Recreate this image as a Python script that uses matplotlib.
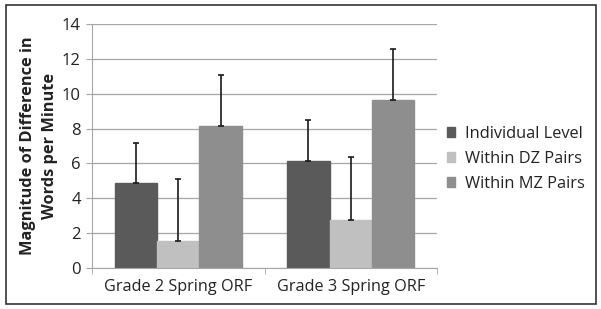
import numpy as np
import matplotlib.pyplot as plt
from matplotlib.patches import Rectangle

categories = ['Grade 2 Spring ORF', 'Grade 3 Spring ORF']
series = ['Individual Level', 'Within DZ Pairs', 'Within MZ Pairs']
values = {
    'Individual Level': [4.85, 6.15],
    'Within DZ Pairs': [1.55, 2.75],
    'Within MZ Pairs': [8.15, 9.65],
}
errors = {
    'Individual Level': [2.3, 2.35],
    'Within DZ Pairs': [3.55, 3.6],
    'Within MZ Pairs': [2.9, 2.9],
}
colors = ['#5a5a5a', '#c0c0c0', '#8e8e8e']

plt.rcParams['font.family'] = ['Open Sans', 'DejaVu Sans']
fig = plt.figure(figsize=(6.01, 3.09), dpi=100)
ax = fig.add_axes([92 / 601, 1 - 268 / 309, (437 - 92) / 601, 244 / 309])

x = np.arange(len(categories))
w = 0.246
for i, s in enumerate(series):
    pos = x + (i - 1) * w
    ax.bar(pos, values[s], w, color=colors[i], edgecolor=colors[i], label=s, zorder=2)
    ax.errorbar(pos, values[s], yerr=[np.zeros(len(categories)), errors[s]],
                fmt='none', ecolor='#1a1a1a', elinewidth=1.2, capsize=2.5, capthick=1.2, zorder=3)

ax.set_xlim(-0.5, 1.5)
ax.set_ylim(0, 14)
ax.set_yticks(range(0, 15, 2))
ax.yaxis.grid(True, color='#a6a6a6', linewidth=0.9, zorder=0)
ax.set_axisbelow(True)
ax.set_xticks(x)
ax.set_xticklabels(categories, fontsize=11.7, color='#222222')
ax.set_xticks([-0.5, 0.5, 1.5], minor=True)
ax.tick_params(axis='x', which='major', length=0, pad=8)
ax.tick_params(axis='x', which='minor', length=4, color='#a6a6a6', direction='out')
ax.tick_params(axis='y', length=4, color='#a6a6a6', labelsize=12, labelcolor='#222222', pad=4)
for sp in ['top', 'right']:
    ax.spines[sp].set_visible(False)
ax.spines['left'].set_color('#a6a6a6')
ax.spines['bottom'].set_color('#a6a6a6')

ax.set_ylabel('Magnitude of Difference in\nWords per Minute', fontsize=11.8,
              fontweight='bold', color='#222222', labelpad=3, linespacing=1.45)

ax.legend(loc='center left', bbox_to_anchor=(1.0, 0.447), frameon=False, fontsize=11.8,
          handlelength=0.5, handleheight=0.5, handletextpad=0.6, labelspacing=0.55,
          borderaxespad=0.2, labelcolor='#222222')

fig.patches.append(Rectangle((6 / 601, 5 / 309), 590 / 601, 299 / 309, transform=fig.transFigure,
                             fill=False, edgecolor='#333333', linewidth=1.2))

plt.savefig('out.png', dpi=100)
